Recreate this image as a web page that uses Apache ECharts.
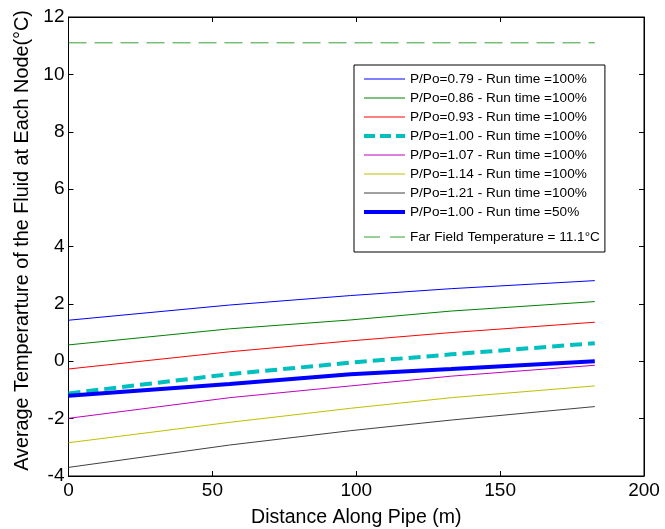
<!DOCTYPE html>
<html><head><meta charset="utf-8">
<script src="https://cdn.jsdelivr.net/npm/echarts@6/dist/echarts.min.js"></script>
<style>html,body{margin:0;padding:0;background:#fff}#c{width:665px;height:529px}</style>
</head><body><div id="c"></div>
<script>
// Distance along pipe (m)
const distance = [0, 56, 98, 133, 182.9];
const names = [
  'P/Po=0.79 - Run time =100%',
  'P/Po=0.86 - Run time =100%',
  'P/Po=0.93 - Run time =100%',
  'P/Po=1.00 - Run time =100%',
  'P/Po=1.07 - Run time =100%',
  'P/Po=1.14 - Run time =100%',
  'P/Po=1.21 - Run time =100%',
  'P/Po=1.00 - Run time =50%',
  'Far Field Temperature = 11.1°C'
];
const p079 = [1.43, 1.96, 2.29, 2.53, 2.81];
const p086 = [0.57, 1.13, 1.44, 1.75, 2.08];
const p093 = [-0.27, 0.33, 0.71, 1.00, 1.36];
const p100 = [-1.12, -0.45, -0.05, 0.24, 0.63];
const p107 = [-1.99, -1.27, -0.86, -0.52, -0.14];
const p114 = [-2.84, -2.13, -1.64, -1.27, -0.86];
const p121 = [-3.70, -2.92, -2.42, -2.05, -1.58];
const p100half = [-1.20, -0.79, -0.45, -0.27, 0.00];
const farField = [11.1, 11.1, 11.1, 11.1, 11.1];
const xTicks = [0, 50, 100, 150, 200];
const yTicks = [-4, -2, 0, 2, 4, 6, 8, 10, 12];

const seriesData = [p079, p086, p093, p100, p107, p114, p121, p100half, farField];
const colors = ['#0000ff', '#008000', '#ff0000', '#00bfbf', '#bf00bf', '#bfbf00', '#404040', '#0000ff', '#33a033'];
const widths = [1, 1, 1, 4, 1, 1, 1, 4, 1];
const types = ['solid','solid','solid',[12,6],'solid','solid','solid','solid',[18,8]];
const legendTypes = ['solid','solid','solid',[11,5],'solid','solid','solid','solid',[16,10]];

const pair = arr => distance.map((d, i) => [d, arr[i]]);
const font = 'Liberation Sans, Arial, sans-serif';

const series = seriesData.map((arr, k) => ({
  name: names[k], type: 'line', data: pair(arr), symbol: 'none',
  xAxisIndex: 0, yAxisIndex: 0,
  lineStyle: { color: colors[k], width: widths[k], type: types[k] },
  itemStyle: { color: colors[k] },
  z: k === 7 ? 3 : 2, animation: false
}));

const axisCommon = {
  axisLine: { onZero: false, lineStyle: { color: '#000' } },
  axisTick: { inside: true, length: 5, lineStyle: { color: '#000' } },
  splitLine: { show: false }
};

const chart = echarts.init(document.getElementById('c'));
chart.setOption({
  animation: false,
  grid: { left: 68.5, right: 21, top: 17, bottom: 53, show: true, borderColor: '#000', borderWidth: 1,
    outerBoundsMode: 'none', containLabel: false },
  legend: {
    orient: 'vertical', left: 354, top: 65,
    backgroundColor: '#fff', borderColor: '#000', borderWidth: 1,
    padding: [7, 5, 2, 8], itemWidth: 41, itemHeight: 12, itemGap: 5,
    itemStyle: { opacity: 0 },
    textStyle: { fontFamily: font, fontSize: 13.6, lineHeight: 14, color: '#000' },
    data: names.map((n, k) => {
      const item = { name: n, lineStyle: { width: widths[k], type: legendTypes[k], color: colors[k] } };
      if (k === names.length - 1) item.textStyle = { padding: [6, 0, 6, 0] };
      return item;
    })
  },
  xAxis: [Object.assign({
    type: 'value', min: 0, max: 200, interval: 50,
    name: 'Distance Along Pipe (m)', nameLocation: 'middle', nameGap: 32,
    nameTextStyle: { fontFamily: font, fontSize: 19.5, color: '#000' },
    axisLabel: { fontFamily: font, fontSize: 19, color: '#000', margin: 5,
      formatter: v => xTicks.includes(v) ? String(v) : '' }
  }, axisCommon), Object.assign({
    type: 'value', min: 0, max: 200, interval: 50, position: 'top',
    axisLabel: { show: false }
  }, axisCommon)],
  yAxis: [Object.assign({
    type: 'value', min: -4, max: 12, interval: 2,
    name: 'Average Temperarture of the Fluid at Each Node(°C)', nameLocation: 'middle', nameGap: 35,
    nameTextStyle: { fontFamily: font, fontSize: 19.8, color: '#000', padding: [0, 0, 0, 12] },
    axisLabel: { fontFamily: font, fontSize: 19, color: '#000', margin: 4,
      formatter: v => yTicks.includes(v) ? String(v) : '' }
  }, axisCommon), Object.assign({
    type: 'value', min: -4, max: 12, interval: 2, position: 'right',
    axisLabel: { show: false }
  }, axisCommon)],
  series: series
});
</script></body></html>
